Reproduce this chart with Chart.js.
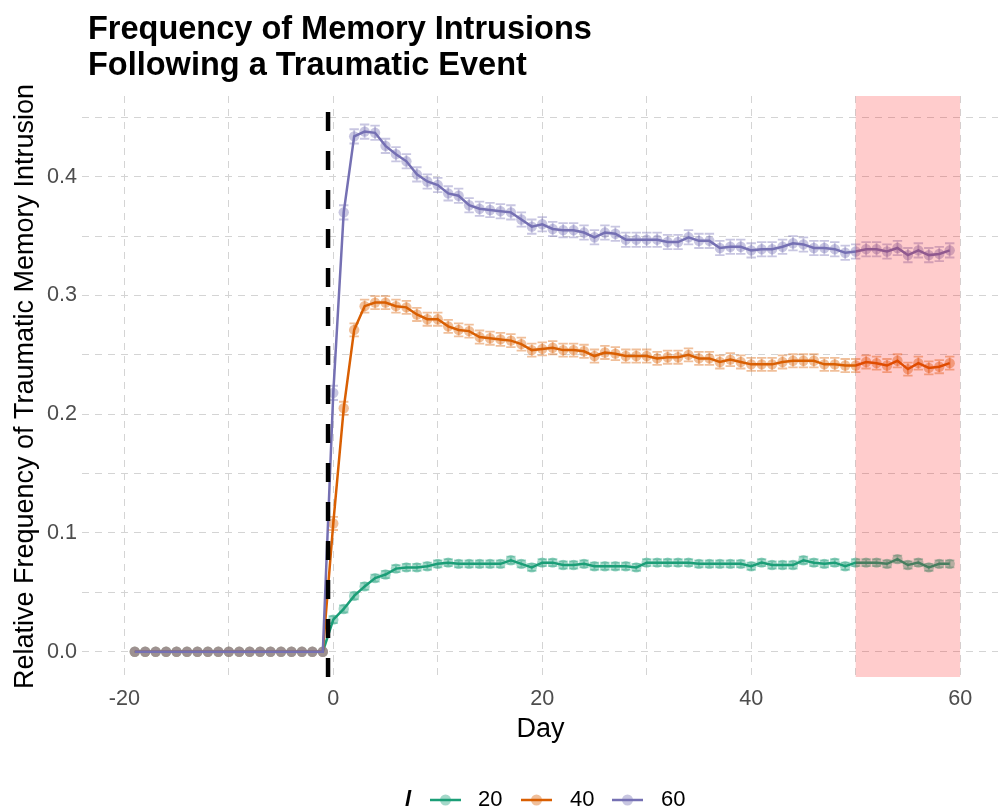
<!DOCTYPE html>
<html>
<head>
<meta charset="utf-8">
<script src="https://cdn.jsdelivr.net/npm/chart.js@4.4.0/dist/chart.umd.min.js"></script>
<style>
  html, body { margin: 0; padding: 0; background: #fff; overflow: hidden; }
  #wrap { width: 1004px; height: 811px; }
</style>
</head>
<body>
<div id="wrap"><canvas id="intrusionChart" width="1004" height="811"></canvas></div>
<script>
// days relative to the event (day 0)
const days = [
  -19, -18, -17, -16, -15, -14, -13, -12, -11, -10, -9, -8, -7, -6, -5, -4, -3, -2, -1,
  0, 1, 2, 3, 4, 5, 6, 7, 8, 9, 10, 11, 12, 13, 14, 15, 16, 17, 18, 19,
  20, 21, 22, 23, 24, 25, 26, 27, 28, 29, 30, 31, 32, 33, 34, 35, 36, 37, 38, 39,
  40, 41, 42, 43, 44, 45, 46, 47, 48, 49, 50, 51, 52, 53, 54, 55, 56, 57, 58, 59
];

// mean relative frequency per day, one array per intensity l
const freqL20 = [
  0, 0, 0, 0, 0, 0, 0, 0, 0, 0, 0, 0, 0, 0, 0, 0, 0, 0, 0,
  0.027, 0.036, 0.047, 0.055, 0.062, 0.065, 0.070, 0.071, 0.071, 0.072,
  0.074, 0.075, 0.074, 0.074, 0.074, 0.074, 0.074, 0.077, 0.074, 0.071,
  0.075, 0.075, 0.073, 0.073, 0.074, 0.072, 0.072, 0.072, 0.072, 0.071,
  0.075, 0.075, 0.075, 0.075, 0.075, 0.074, 0.074, 0.074, 0.074, 0.074,
  0.072, 0.075, 0.073, 0.073, 0.073, 0.077, 0.075, 0.074, 0.075, 0.072,
  0.075, 0.075, 0.075, 0.074, 0.078, 0.073, 0.075, 0.071, 0.074, 0.074
];
const freqL40 = [
  0, 0, 0, 0, 0, 0, 0, 0, 0, 0, 0, 0, 0, 0, 0, 0, 0, 0, 0,
  0.108, 0.205, 0.271, 0.291, 0.294, 0.294, 0.291, 0.290, 0.284, 0.280,
  0.280, 0.274, 0.271, 0.270, 0.265, 0.264, 0.263, 0.262, 0.259, 0.254,
  0.255, 0.256, 0.254, 0.254, 0.253, 0.249, 0.252, 0.251, 0.249, 0.249,
  0.249, 0.247, 0.248, 0.248, 0.250, 0.247, 0.247, 0.244, 0.246, 0.244,
  0.242, 0.242, 0.242, 0.244, 0.245, 0.245, 0.245, 0.242, 0.242, 0.241,
  0.241, 0.244, 0.243, 0.241, 0.245, 0.238, 0.243, 0.239, 0.240, 0.243
];
const freqL60 = [
  0, 0, 0, 0, 0, 0, 0, 0, 0, 0, 0, 0, 0, 0, 0, 0, 0, 0, 0,
  0.218, 0.370, 0.434, 0.438, 0.437, 0.426, 0.419, 0.413, 0.402, 0.396,
  0.393, 0.386, 0.384, 0.376, 0.373, 0.372, 0.371, 0.370, 0.364, 0.358,
  0.360, 0.356, 0.355, 0.355, 0.353, 0.349, 0.353, 0.352, 0.347, 0.347,
  0.347, 0.347, 0.345, 0.345, 0.349, 0.346, 0.346, 0.340, 0.341, 0.341,
  0.338, 0.339, 0.339, 0.341, 0.344, 0.343, 0.340, 0.340, 0.339, 0.336,
  0.337, 0.339, 0.339, 0.337, 0.340, 0.334, 0.338, 0.334, 0.335, 0.338
];

// standard error per series (error bar half height)
const seL20 = 0.003;
const seL40 = 0.0055;
const seL60 = 0.006;

const seriesLabels = ['20', '40', '60'];
const seriesColors = ['#1B9E77', '#D95F02', '#7570B3'];
const seriesValues = [freqL20, freqL40, freqL60];
const seriesErr = [seL20, seL40, seL60];

const xTickVals = [-20, -10, 0, 10, 20, 30, 40, 50, 60];
const yTickVals = [0, 0.05, 0.1, 0.15, 0.2, 0.25, 0.3, 0.35, 0.4, 0.45];

const eventDay = -0.5;           // dashed marker just before day 0
const windowDays = [50, 60];     // shaded late window

const FONT = "'Liberation Sans', Arial, Helvetica, sans-serif";

function fade(hex, a) {
  const n = parseInt(hex.slice(1), 16);
  return `rgba(${(n >> 16) & 255}, ${(n >> 8) & 255}, ${n & 255}, ${a})`;
}

// error bars for every point from day 0 on
const errorBars = {
  id: 'errorBars',
  afterDatasetsDraw(chart) {
    const { ctx, scales: { x, y } } = chart;
    const cap = 0.45;
    ctx.save();
    ctx.lineWidth = 1.8;
    chart.data.datasets.forEach((ds, i) => {
      const se = seriesErr[i];
      ctx.strokeStyle = fade(seriesColors[i], 0.4);
      ds.data.forEach(p => {
        if (p.x < 0) return;
        const px = x.getPixelForValue(p.x);
        const l = x.getPixelForValue(p.x - cap);
        const r = x.getPixelForValue(p.x + cap);
        const top = y.getPixelForValue(p.y + se);
        const bot = y.getPixelForValue(p.y - se);
        ctx.beginPath();
        ctx.moveTo(px, top); ctx.lineTo(px, bot);
        ctx.moveTo(l, top); ctx.lineTo(r, top);
        ctx.moveTo(l, bot); ctx.lineTo(r, bot);
        ctx.stroke();
      });
    });
    ctx.restore();
  }
};

// shaded window and event line over the data
const markers = {
  id: 'markers',
  afterDatasetsDraw(chart) {
    const { ctx, chartArea: area, scales: { x } } = chart;
    ctx.save();
    const x0 = x.getPixelForValue(windowDays[0]);
    const x1 = x.getPixelForValue(windowDays[1]);
    ctx.fillStyle = 'rgba(255, 0, 0, 0.2)';
    ctx.fillRect(x0, area.top, x1 - x0, area.bottom - area.top);

    const ex = x.getPixelForValue(eventDay);
    ctx.strokeStyle = '#000';
    ctx.lineWidth = 4.5;
    ctx.setLineDash([19, 20]);
    ctx.beginPath();
    ctx.moveTo(ex, area.bottom);
    ctx.lineTo(ex, area.top);
    ctx.stroke();
    ctx.restore();
  }
};

// title block and bottom legend
const titleAndLegend = {
  id: 'titleAndLegend',
  afterDraw(chart) {
    const { ctx } = chart;
    ctx.save();
    ctx.fillStyle = '#000';
    ctx.textAlign = 'left';
    ctx.textBaseline = 'alphabetic';
    ctx.font = `bold 32.5px ${FONT}`;
    ctx.fillText('Frequency of Memory Intrusions', 88, 39);
    ctx.fillText('Following a Traumatic Event', 88, 75);

    const ly = 800;
    ctx.textBaseline = 'middle';
    ctx.font = `italic bold 22px ${FONT}`;
    ctx.fillText('l', 405, ly);

    ctx.font = `22px ${FONT}`;
    const keyX = [430, 521, 612];
    const textX = [478, 570, 661];
    seriesLabels.forEach((lab, i) => {
      ctx.strokeStyle = seriesColors[i];
      ctx.lineWidth = 2.5;
      ctx.beginPath();
      ctx.moveTo(keyX[i], ly);
      ctx.lineTo(keyX[i] + 31, ly);
      ctx.stroke();
      ctx.fillStyle = fade(seriesColors[i], 0.4);
      ctx.beginPath();
      ctx.arc(keyX[i] + 15.5, ly, 5.5, 0, Math.PI * 2);
      ctx.fill();
      ctx.fillStyle = '#000';
      ctx.fillText(lab, textX[i], ly);
    });
    ctx.restore();
  }
};

// l = 60 drawn last, on top
const datasets = seriesValues.map((vals, i) => ({
  label: seriesLabels[i],
  data: days.map((d, k) => ({ x: d, y: vals[k] })),
  order: seriesValues.length - i,
  borderColor: seriesColors[i],
  borderWidth: 2.5,
  pointRadius: 5.2,
  pointBorderWidth: 0,
  pointBackgroundColor: fade(seriesColors[i], 0.4),
  tension: 0,
  fill: false
}));

const gridStyle = { color: '#d4d4d4', lineWidth: 1, drawTicks: false };
const borderStyle = { display: false, dash: [7, 6] };

new Chart(document.getElementById('intrusionChart'), {
  type: 'line',
  data: { datasets },
  options: {
    responsive: false,
    animation: false,
    layout: { padding: { top: 96, right: 2, bottom: 64, left: 0 } },
    plugins: {
      legend: { display: false },
      tooltip: { enabled: false },
      title: { display: false }
    },
    scales: {
      x: {
        type: 'linear',
        min: -24.05,
        max: 63.7,
        grid: gridStyle,
        border: borderStyle,
        afterBuildTicks: s => { s.ticks = xTickVals.map(v => ({ value: v })); },
        afterFit: s => { s.height = 70; },
        ticks: {
          padding: 9,
          color: '#4d4d4d',
          font: { family: FONT, size: 21.6 },
          callback: v => (v % 20 === 0 ? String(v) : '')
        },
        title: {
          display: true,
          text: 'Day',
          color: '#000',
          font: { family: FONT, size: 27 },
          padding: { top: 0, bottom: 1 }
        }
      },
      y: {
        type: 'linear',
        min: -0.0213,
        max: 0.468,
        grid: gridStyle,
        border: borderStyle,
        afterBuildTicks: s => { s.ticks = yTickVals.map(v => ({ value: v })); },
        afterFit: s => { s.width = 82; },
        ticks: {
          padding: 5,
          color: '#4d4d4d',
          font: { family: FONT, size: 21.6 },
          callback: v => (Math.round(v * 100) % 10 === 0 ? v.toFixed(1) : '')
        },
        title: {
          display: true,
          text: 'Relative Frequency of Traumatic Memory Intrusion',
          color: '#000',
          font: { family: FONT, size: 27 },
          padding: { top: 9, bottom: 0 }
        }
      }
    }
  },
  plugins: [errorBars, markers, titleAndLegend]
});
</script>
</body>
</html>
